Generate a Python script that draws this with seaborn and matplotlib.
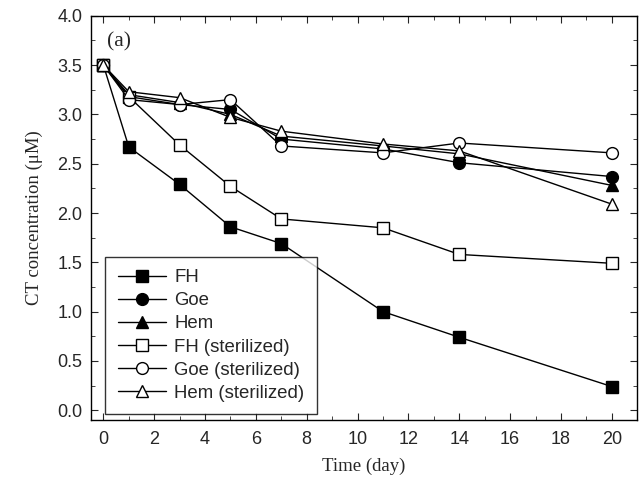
import matplotlib
matplotlib.use('Agg')
import matplotlib.pyplot as plt
import seaborn as sns
import pandas as pd
from matplotlib.ticker import MultipleLocator

days = [0, 1, 3, 5, 7, 11, 14, 20]
fh = [3.5, 2.67, 2.29, 1.86, 1.69, 1.00, 0.74, 0.24]
goe = [3.5, 3.18, 3.10, 3.05, 2.75, 2.65, 2.51, 2.37]
hem = [3.5, 3.20, 3.12, 3.00, 2.78, 2.68, 2.60, 2.28]
fh_ster = [3.5, 3.18, 2.69, 2.27, 1.94, 1.85, 1.58, 1.49]
goe_ster = [3.5, 3.15, 3.10, 3.15, 2.68, 2.61, 2.71, 2.61]
hem_ster = [3.5, 3.23, 3.17, 2.97, 2.83, 2.70, 2.63, 2.09]

series = ['FH', 'Goe', 'Hem', 'FH (sterilized)', 'Goe (sterilized)', 'Hem (sterilized)']
values = [fh, goe, hem, fh_ster, goe_ster, hem_ster]
markers = ['s', 'o', '^', 's', 'o', '^']
faces = ['black', 'black', 'black', 'white', 'white', 'white']

df = pd.DataFrame({
    'day': days * len(series),
    'conc': [v for vals in values for v in vals],
    'series': [s for s in series for _ in days],
})

sns.set_style('ticks')
plt.rcParams['font.family'] = ['Liberation Sans', 'DejaVu Sans']

fig = plt.figure(figsize=(6.43, 4.79), dpi=100)
ax = fig.add_axes([0.141, 0.123, 0.85, 0.844])

for name, m, fc in zip(series, markers, faces):
    sns.lineplot(data=df[df['series'] == name], x='day', y='conc', ax=ax,
                 color='black', lw=1, marker=m, markersize=8.5,
                 markerfacecolor=fc, markeredgecolor='black', markeredgewidth=1,
                 label=name)

ax.set_xlim(-0.5, 21)
ax.set_ylim(-0.1, 4.0)
ax.xaxis.set_major_locator(MultipleLocator(2))
ax.xaxis.set_minor_locator(MultipleLocator(1))
ax.yaxis.set_major_locator(MultipleLocator(0.5))
ax.yaxis.set_minor_locator(MultipleLocator(0.25))
ax.yaxis.set_major_formatter(matplotlib.ticker.FormatStrFormatter('%.1f'))
ax.tick_params(which='both', direction='in', top=True, right=True, labelsize=13)
ax.tick_params(which='major', length=5)
ax.tick_params(which='minor', length=3)
ax.tick_params(axis='x', which='major', pad=8)
ax.tick_params(axis='y', which='major', pad=6)
for sp in ax.spines.values():
    sp.set_linewidth(1)
    sp.set_color('black')

ax.set_xlabel('Time (day)', family='Liberation Serif', fontsize=13.5, labelpad=7)
ax.set_ylabel('CT concentration (\u03bcM)', family='Liberation Serif', fontsize=13.5, labelpad=10)
ax.text(0.03, 0.925, '(a)', transform=ax.transAxes, family='Liberation Serif', fontsize=15.5)

leg = ax.legend(loc='lower left', bbox_to_anchor=(0.027, 0.015), fontsize=13.4,
                frameon=True, fancybox=False, edgecolor='black',
                handlelength=2.6, handletextpad=0.45, labelspacing=0.33,
                borderpad=0.65, borderaxespad=0)
leg.get_frame().set_linewidth(1)

fig.savefig('out.png', dpi=100)
